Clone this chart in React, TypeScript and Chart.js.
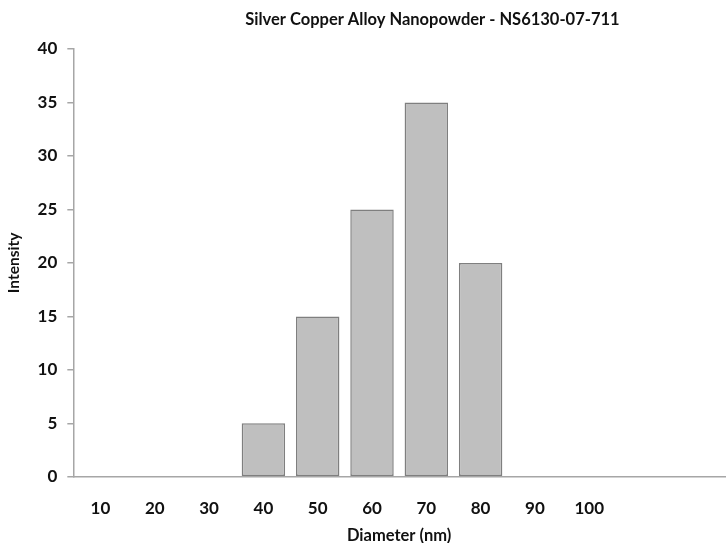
import React, { useEffect, useRef } from "react";
import { Chart, registerables } from "chart.js";

Chart.register(...registerables);

const TITLE = "Silver Copper Alloy Nanopowder - NS6130-07-711";
const X_TITLE = "Diameter (nm)";
const Y_TITLE = "Intensity";
const categories = ["10", "20", "30", "40", "50", "60", "70", "80", "90", "100", "", ""];
const intensity = [null, null, null, 5, 15, 25, 35, 20, null, null, null, null];
const yTicks = { min: 0, max: 40, step: 5 };

const FONT = "Lato, 'Open Sans', sans-serif";

const titlePlugin = {
  id: "offsetTitle",
  afterDraw(chart: any) {
    const { ctx, chartArea } = chart;
    ctx.save();
    ctx.font = `bold 16.5px ${FONT}`;
    ctx.fillStyle = "#111";
    ctx.textAlign = "center";
    ctx.textBaseline = "middle";
    const cx = chartArea.left + (chartArea.right - chartArea.left) * 0.551;
    ctx.fillText(TITLE, cx, chartArea.top - 29);
    ctx.restore();
  },
};

export default function App() {
  const ref = useRef<HTMLCanvasElement>(null);
  useEffect(() => {
    if (!ref.current) return;
    const chart = new Chart(ref.current, {
      type: "bar",
      data: {
        labels: categories,
        datasets: [
          {
            data: intensity as any,
            backgroundColor: "#bfbfbf",
            borderColor: "#7f7f7f",
            borderWidth: 1.5,
            borderSkipped: false,
            barPercentage: 0.8,
            categoryPercentage: 1,
          },
        ],
      },
      options: {
        animation: false,
        responsive: false,
        devicePixelRatio: 1,
        layout: { padding: { top: 49, right: 1, left: 5, bottom: 0 } },
        plugins: {
          legend: { display: false },
          title: { display: false },
          tooltip: { enabled: false },
        },
        scales: {
          x: {
            grid: { display: false, drawTicks: false },
            border: { display: true, color: "#a6a6a6", width: 1.5 },
            ticks: {
              color: "#111",
              font: { family: FONT, size: 17, weight: "bold" },
              padding: 22,
              maxRotation: 0,
              autoSkip: false,
            },
            title: {
              display: true,
              text: X_TITLE,
              color: "#111",
              font: { family: FONT, size: 16.5, weight: "bold" },
              padding: { top: -15, bottom: -3 },
            },
          },
          y: {
            min: yTicks.min,
            max: yTicks.max,
            grid: {
              drawOnChartArea: false,
              drawTicks: true,
              tickLength: 6,
              color: "#a6a6a6",
              lineWidth: 1.5,
            },
            border: { display: true, color: "#a6a6a6", width: 1.5 },
            ticks: {
              stepSize: yTicks.step,
              color: "#111",
              font: { family: FONT, size: 17, weight: "bold" },
              padding: 10,
            },
            title: {
              display: true,
              text: Y_TITLE,
              color: "#111",
              font: { family: FONT, size: 15.5, weight: "bold" },
              padding: { top: 0, bottom: 4 },
            },
          },
        },
      },
      plugins: [titlePlugin],
    });
    return () => chart.destroy();
  }, []);
  return (
    <div style={{ position: "fixed", left: 0, top: 0, width: 726, height: 543, background: "#fff" }}>
      <canvas ref={ref} width={726} height={543} style={{ width: 726, height: 543 }} />
    </div>
  );
}
